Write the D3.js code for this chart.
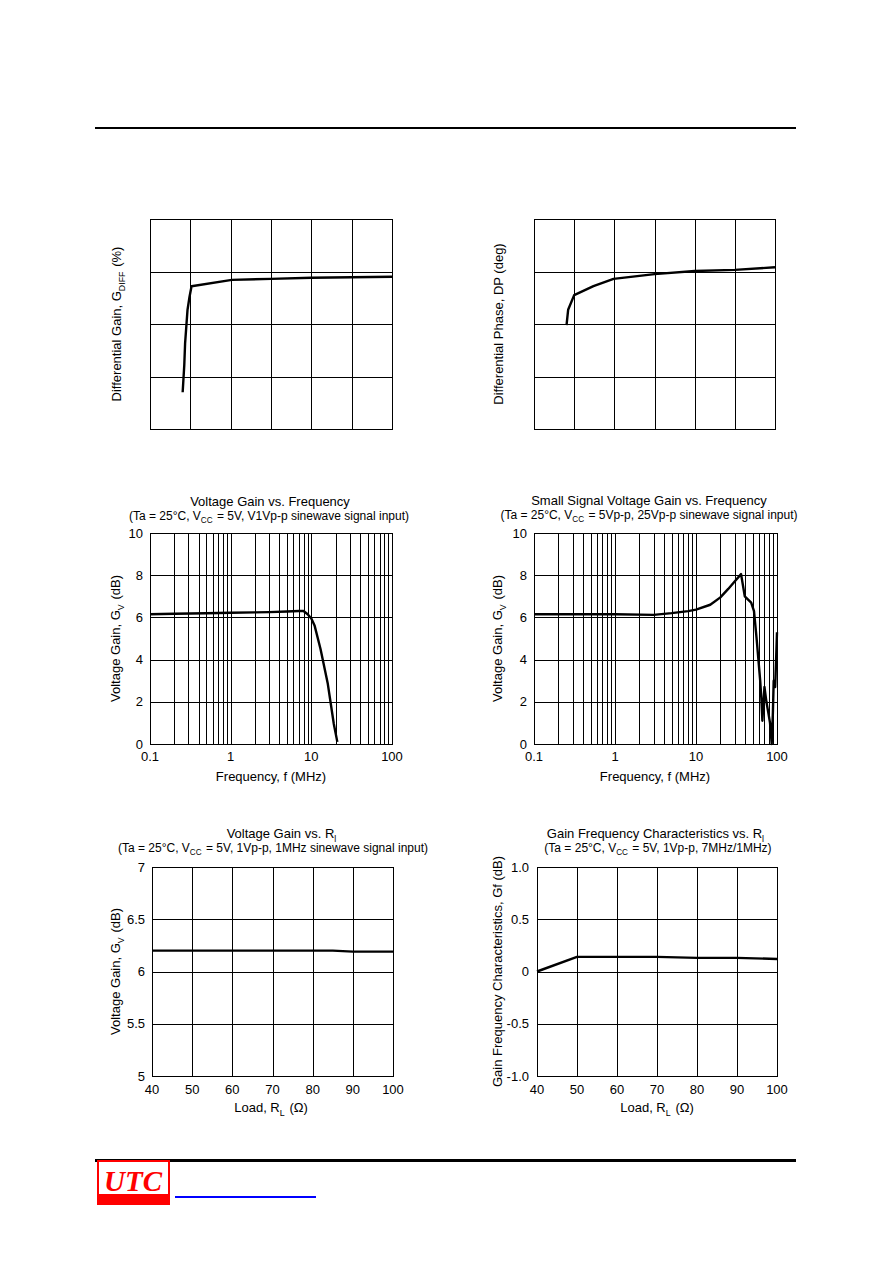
<!DOCTYPE html>
<html><head><meta charset="utf-8">
<script src="https://cdn.jsdelivr.net/npm/d3@7"></script>
<style>body{margin:0;background:#fff} svg text{font-family:"Liberation Sans",Arial,Helvetica,sans-serif;fill:#000}</style>
</head><body><svg id="c" width="892" height="1263"></svg>
<script>
// ---------- data ----------
// Differential gain (grid units, no scale printed)
const diffGainX = [0.81, 0.85, 0.87, 0.93, 0.98, 1.03, 2.03, 3.0, 4.0, 5.0, 6.0];
const diffGainY = [0.70, 1.22, 1.63, 2.27, 2.52, 2.72, 2.84, 2.86, 2.88, 2.89, 2.90];
// Differential phase (grid units)
const diffPhaseX = [0.81, 0.85, 1.0, 1.48, 1.98, 3.0, 4.0, 5.0, 6.0];
const diffPhaseY = [1.98, 2.27, 2.55, 2.72, 2.86, 2.95, 3.01, 3.03, 3.08];
// Voltage gain vs frequency (MHz, dB)
const vgFreq = [0.1, 0.2, 0.5, 1, 2, 3, 5, 7, 8, 9, 10, 11, 13, 16, 19, 21];
const vgGain = [6.15, 6.17, 6.2, 6.22, 6.24, 6.25, 6.28, 6.3, 6.3, 6.15, 5.95, 5.6, 4.5, 2.85, 0.95, 0.1];
// Small signal voltage gain vs frequency (MHz, dB)
const ssFreq = [0.1, 0.5, 1, 3, 5, 8, 10, 15, 20, 25, 30, 36, 40, 48, 52, 56, 62, 64, 66, 70, 74, 78, 82, 86, 89, 91, 95, 100];
const ssGain = [6.15, 6.15, 6.15, 6.12, 6.2, 6.3, 6.37, 6.6, 6.95, 7.35, 7.7, 8.05, 7.0, 6.7, 6.3, 5.0, 3.0, 2.2, 1.1, 2.7, 2.0, 1.5, 1.0, 0.0, 1.5, 3.0, 2.7, 5.3];
// Voltage gain vs load (ohm, dB)
const rlLoad = [40, 50, 60, 70, 80, 85, 90, 100];
const rlGain = [6.2, 6.2, 6.2, 6.2, 6.2, 6.2, 6.19, 6.19];
// Gain frequency characteristics vs load (ohm, dB)
const gfLoad = [40, 50, 60, 70, 80, 90, 100];
const gfGain = [0, 0.14, 0.14, 0.14, 0.13, 0.13, 0.12];
// tick labels
const freqTicks = [0.1, 1, 10, 100];
const freqTickLabels = ["0.1", "1", "10", "100"];
const gainTicks = [0, 2, 4, 6, 8, 10];
const gainTickLabels = ["0", "2", "4", "6", "8", "10"];
const loadTicks = [40, 50, 60, 70, 80, 90, 100];
const loadTickLabels = ["40", "50", "60", "70", "80", "90", "100"];
const rlTicks = [5, 5.5, 6, 6.5, 7];
const rlTickLabels = ["5", "5.5", "6", "6.5", "7"];
const gfTicks = [-1, -0.5, 0, 0.5, 1];
const gfTickLabels = ["-1.0", "-0.5", "0", "0.5", "1.0"];

// ---------- drawing ----------
const svg = d3.select("#c");
svg.append("rect").attr("width", 892).attr("height", 1263).attr("fill", "#fff");

function rich(sel, parts, size) {
  parts.forEach(p => {
    if (typeof p === "string") sel.append("tspan").text(p);
    else {
      sel.append("tspan").attr("dy", size * 0.28).attr("font-size", size * 0.68).text(p.sub);
      sel.append("tspan").attr("dy", -size * 0.28).text("\u200A");
    }
  });
}

const logGrid = [];
[0.1, 1, 10].forEach(d => { for (let k = 1; k <= 9; k++) logGrid.push(d * k); });
logGrid.push(100);

function panel(o) {
  const x = (o.log ? d3.scaleLog() : d3.scaleLinear()).domain(o.xDomain).range([o.x0, o.x1]);
  const y = d3.scaleLinear().domain(o.yDomain).range([o.y1, o.y0]);
  const g = svg.append("g");
  const grid = g.append("g").attr("transform", "translate(0.5,0.5)")
    .attr("stroke", "#000").attr("stroke-width", 1).attr("shape-rendering", "crispEdges");
  grid.selectAll(null).data(o.xGrid).join("line")
    .attr("x1", d => Math.round(x(d))).attr("x2", d => Math.round(x(d)))
    .attr("y1", o.y0).attr("y2", o.y1);
  grid.selectAll(null).data(o.yGrid).join("line")
    .attr("y1", d => Math.round(y(d))).attr("y2", d => Math.round(y(d)))
    .attr("x1", o.x0).attr("x2", o.x1);
  grid.append("rect").attr("x", o.x0).attr("y", o.y0)
    .attr("width", o.x1 - o.x0).attr("height", o.y1 - o.y0).attr("fill", "none");

  if (o.xTicks) {
    g.selectAll(null).data(o.xTicks).join("text")
      .attr("x", d => x(d)).attr("y", o.xTickY).attr("text-anchor", "middle")
      .attr("font-size", 13).text((d, i) => o.xTickLabels[i]);
  }
  if (o.yTicks) {
    g.selectAll(null).data(o.yTicks).join("text")
      .attr("x", o.x0 - o.yTickGap).attr("y", d => y(d)).attr("dy", "0.36em")
      .attr("text-anchor", "end").attr("font-size", 13).text((d, i) => o.yTickLabels[i]);
  }
  const line = d3.line().x(d => x(d[0])).y(d => y(d[1]));
  g.append("path").datum(d3.zip(o.xs, o.ys)).attr("d", line)
    .attr("fill", "none").attr("stroke", "#000").attr("stroke-width", 2.4)
    .attr("stroke-linejoin", "round").attr("stroke-linecap", "butt");

  // y label
  const yl = g.append("text").attr("font-size", 13).attr("text-anchor", "middle")
    .attr("transform", `translate(${o.yLabelX},${(o.y0 + o.y1) / 2}) rotate(-90)`);
  rich(yl, o.yLabel, 13);
  if (o.xLabel) {
    const xl = g.append("text").attr("font-size", 13).attr("text-anchor", "middle")
      .attr("x", o.xLabelCx).attr("y", o.xLabelY);
    rich(xl, o.xLabel, 13);
  }
  if (o.title) {
    const t = g.append("text").attr("font-size", 13).attr("text-anchor", "middle")
      .attr("x", o.titleCx).attr("y", o.titleY);
    rich(t, o.title, 13);
    const s = g.append("text").attr("font-size", 12).attr("text-anchor", "middle")
      .attr("x", o.subCx).attr("y", o.titleY + 14);
    rich(s, o.sub, 12);
  }
}

// header rule
svg.append("rect").attr("x", 95).attr("y", 127).attr("width", 701).attr("height", 2).attr("fill", "#000");

panel({x0: 150, x1: 392, y0: 219, y1: 429, xDomain: [0, 6], yDomain: [0, 4],
  xGrid: d3.range(0, 7), yGrid: d3.range(0, 5), xs: diffGainX, ys: diffGainY,
  yLabel: ["Differential Gain, G", {sub: "DIFF"}, " (%)"], yLabelX: 121});
panel({x0: 534, x1: 775, y0: 219, y1: 429, xDomain: [0, 6], yDomain: [0, 4],
  xGrid: d3.range(0, 7), yGrid: d3.range(0, 5), xs: diffPhaseX, ys: diffPhaseY,
  yLabel: ["Differential Phase, DP (deg)"], yLabelX: 503});

panel({x0: 150, x1: 392, y0: 533, y1: 744, log: true, xDomain: [0.1, 100], yDomain: [0, 10],
  xGrid: logGrid, yGrid: gainTicks, xs: vgFreq, ys: vgGain,
  xTicks: freqTicks, xTickLabels: freqTickLabels, xTickY: 761,
  yTicks: gainTicks, yTickLabels: gainTickLabels, yTickGap: 7,
  yLabel: ["Voltage Gain, G", {sub: "V"}, " (dB)"], yLabelX: 120,
  xLabel: ["Frequency, f (MHz)"], xLabelCx: 271, xLabelY: 781,
  title: ["Voltage Gain vs. Frequency"], titleCx: 270, titleY: 506,
  sub: ["(Ta = 25\u00B0C, V", {sub: "CC"}, " = 5V, V1Vp-p sinewave signal input)"], subCx: 269});

panel({x0: 534, x1: 777, y0: 533, y1: 744, log: true, xDomain: [0.1, 100], yDomain: [0, 10],
  xGrid: logGrid, yGrid: gainTicks, xs: ssFreq, ys: ssGain,
  xTicks: freqTicks, xTickLabels: freqTickLabels, xTickY: 761,
  yTicks: gainTicks, yTickLabels: gainTickLabels, yTickGap: 7,
  yLabel: ["Voltage Gain, G", {sub: "V"}, " (dB)"], yLabelX: 502,
  xLabel: ["Frequency, f (MHz)"], xLabelCx: 655, xLabelY: 781,
  title: ["Small Signal Voltage Gain vs. Frequency"], titleCx: 649, titleY: 505,
  sub: ["(Ta = 25\u00B0C, V", {sub: "CC"}, " = 5Vp-p, 25Vp-p sinewave signal input)"], subCx: 649});

panel({x0: 152, x1: 393, y0: 867, y1: 1076, xDomain: [40, 100], yDomain: [5, 7],
  xGrid: loadTicks, yGrid: rlTicks, xs: rlLoad, ys: rlGain,
  xTicks: loadTicks, xTickLabels: loadTickLabels, xTickY: 1094,
  yTicks: rlTicks, yTickLabels: rlTickLabels, yTickGap: 7,
  yLabel: ["Voltage Gain, G", {sub: "V"}, " (dB)"], yLabelX: 120,
  xLabel: ["Load, R", {sub: "L"}, " (\u03A9)"], xLabelCx: 271, xLabelY: 1112,
  title: ["Voltage Gain vs. R", {sub: "l"}], titleCx: 282, titleY: 838,
  sub: ["(Ta = 25\u00B0C, V", {sub: "CC"}, " = 5V, 1Vp-p, 1MHz sinewave signal input)"], subCx: 273});

panel({x0: 537, x1: 777, y0: 867, y1: 1076, xDomain: [40, 100], yDomain: [-1, 1],
  xGrid: loadTicks, yGrid: gfTicks, xs: gfLoad, ys: gfGain,
  xTicks: loadTicks, xTickLabels: loadTickLabels, xTickY: 1094,
  yTicks: gfTicks, yTickLabels: gfTickLabels, yTickGap: 8,
  yLabel: ["Gain Frequency Characteristics, Gf (dB)"], yLabelX: 502,
  xLabel: ["Load, R", {sub: "L"}, " (\u03A9)"], xLabelCx: 657, xLabelY: 1112,
  title: ["Gain Frequency Characteristics vs. R", {sub: "l"}], titleCx: 656, titleY: 838,
  sub: ["(Ta = 25\u00B0C, V", {sub: "CC"}, " = 5V, 1Vp-p, 7MHz/1MHz)"], subCx: 658});

// footer
svg.append("rect").attr("x", 95).attr("y", 1159).attr("width", 701).attr("height", 3).attr("fill", "#000");
svg.append("rect").attr("x", 97).attr("y", 1160).attr("width", 73).attr("height", 45).attr("fill", "#ff0000");
svg.append("rect").attr("x", 99).attr("y", 1162).attr("width", 69).attr("height", 32).attr("fill", "#fff");
svg.append("text").attr("x", 133).attr("y", 1191).attr("text-anchor", "middle")
  .attr("font-size", 29).attr("font-style", "italic").attr("font-weight", "bold")
  .style("font-family", "'Liberation Serif','Times New Roman',serif").style("fill", "#ff0000").text("UTC");
svg.append("rect").attr("x", 175).attr("y", 1196).attr("width", 141).attr("height", 2).attr("fill", "#0000ff");
</script></body></html>
